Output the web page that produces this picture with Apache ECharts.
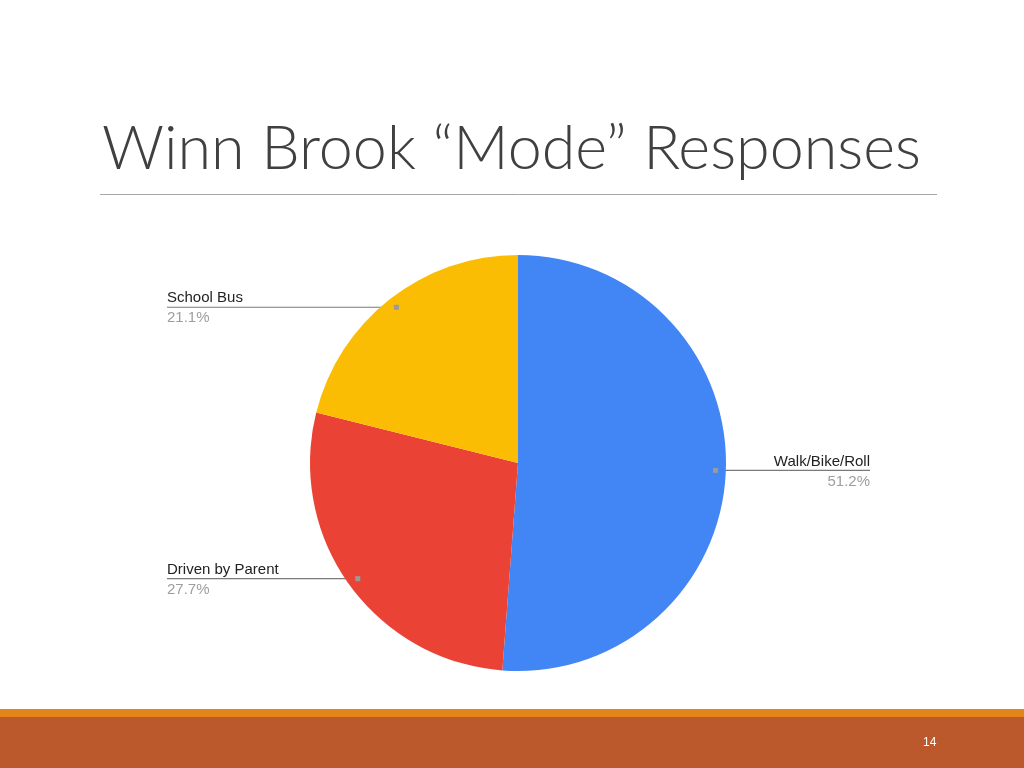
<!DOCTYPE html>
<html>
<head>
<meta charset="utf-8">
<script src="https://cdn.jsdelivr.net/npm/echarts@6/dist/echarts.min.js"></script>
<style>
html,body{margin:0;padding:0;background:#fff;}
#c{width:1024px;height:768px;}
</style>
</head>
<body>
<div id="c"></div>
<script>
var titleText = 'Winn Brook \u201cMode\u201d Responses';
var categories = ['Walk/Bike/Roll', 'Driven by Parent', 'School Bus'];
var values = [51.2, 27.7, 21.1];
var colors = ['#4285F4', '#EA4335', '#FBBC04'];
var pageNumber = '14';

var CX = 518, CY = 463, R = 208;
var total = values.reduce(function (a, b) { return a + b; }, 0);

var chart = echarts.init(document.getElementById('c'));

function midAngle(i) {
  var cum = 0;
  for (var k = 0; k < i; k++) cum += values[k];
  return 2 * Math.PI * (cum + values[i] / 2) / total;
}
function dotPos(i) {
  var a = midAngle(i);
  return [CX + 0.95 * R * Math.sin(a), CY - 0.95 * R * Math.cos(a), Math.sin(a) > 0];
}

var data = categories.map(function (n, i) {
  return { name: n, value: values[i], itemStyle: { color: colors[i] } };
});

var FONT = '"Liberation Sans", Arial, sans-serif';

chart.setOption({
  animation: false,
  backgroundColor: '#ffffff',
  title: {
    text: titleText,
    left: 97,
    top: 114,
    textStyle: {
      fontFamily: 'Lato',
      fontWeight: 300,
      fontSize: 61,
      color: '#404040'
    }
  },
  graphic: [
    { type: 'line', shape: { x1: 100, y1: 194.5, x2: 937, y2: 194.5 }, style: { stroke: '#a6a6a6', lineWidth: 1 } },
    { type: 'rect', shape: { x: 0, y: 709, width: 1024, height: 9 }, style: { fill: '#E2861B' } },
    { type: 'rect', shape: { x: 0, y: 717, width: 1024, height: 51 }, style: { fill: '#BB582C' } },
    { type: 'text', left: 923, top: 737, style: { text: pageNumber, fill: '#ffffff', font: '12px "Liberation Sans Narrow", "Liberation Sans", sans-serif' } }
  ],
  series: [
    {
      type: 'pie',
      center: [CX, CY],
      radius: [0, R],
      startAngle: 90,
      clockwise: true,
      avoidLabelOverlap: false,
      silent: true,
      data: data,
      label: {
        show: true,
        position: 'outside',
        formatter: '{n|{b}}\n{p|{d}%}',
        rich: {
          n: { fontFamily: FONT, fontSize: 15, color: '#222222', lineHeight: 20 },
          p: { fontFamily: FONT, fontSize: 15, color: '#9e9e9e', lineHeight: 20 }
        }
      },
      labelLine: {
        show: true,
        smooth: false,
        lineStyle: { color: '#7a7a7a', width: 1.2 }
      },
      labelLayout: function (params) {
        var d = dotPos(params.dataIndex);
        var edge = d[2] ? 870 : 167;
        return {
          x: edge,
          y: d[1] + 1,
          align: d[2] ? 'right' : 'left',
          verticalAlign: 'middle',
          labelLinePoints: [[d[0], d[1]], [(d[0] + edge) / 2, d[1]], [edge, d[1]]]
        };
      }
    },
    {
      type: 'pie',
      center: [CX, CY],
      radius: [R * 0.9, R],
      startAngle: 90,
      clockwise: true,
      silent: true,
      z: 5,
      data: categories.map(function (n, i) {
        return { name: n, value: values[i] };
      }),
      itemStyle: { color: 'rgba(0,0,0,0)', borderWidth: 0 },
      label: {
        show: true,
        position: 'inside',
        formatter: '{a|}',
        rich: { a: { width: 5, height: 5, backgroundColor: '#9a9a9a' } }
      },
      labelLine: { show: false },
      labelLayout: function (params) {
        var d = dotPos(params.dataIndex);
        return { x: d[0], y: d[1], align: 'center', verticalAlign: 'middle' };
      }
    }
  ]
});
</script>
</body>
</html>
